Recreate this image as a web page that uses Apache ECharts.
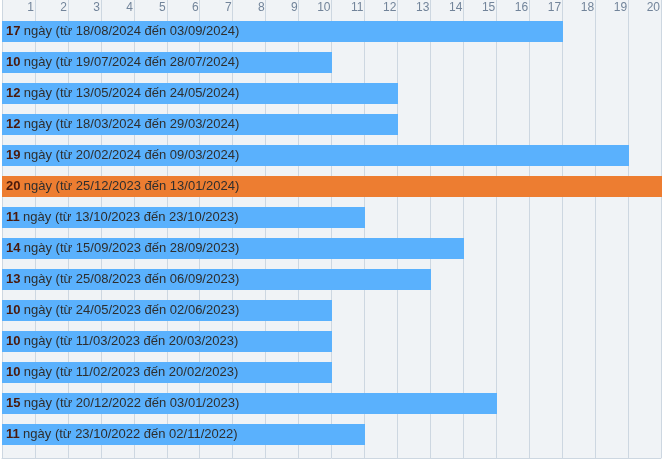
<!DOCTYPE html>
<html><head><meta charset="utf-8">
<script src="https://cdn.jsdelivr.net/npm/echarts@6/dist/echarts.min.js"></script>
<style>html,body{margin:0;padding:0;background:#fff}#c{width:663px;height:460px}</style>
</head><body><div id="c"></div>
<script>
const days = [17,10,12,12,19,20,11,14,13,10,10,10,15,11];
const startDates = ['18/08/2024','19/07/2024','13/05/2024','18/03/2024','20/02/2024','25/12/2023','13/10/2023','15/09/2023','25/08/2023','24/05/2023','11/03/2023','11/02/2023','20/12/2022','23/10/2022'];
const endDates = ['03/09/2024','28/07/2024','24/05/2024','29/03/2024','09/03/2024','13/01/2024','23/10/2023','28/09/2023','06/09/2023','02/06/2023','20/03/2023','20/02/2023','03/01/2023','02/11/2022'];
const xTicks = [0,1,2,3,4,5,6,7,8,9,10,11,12,13,14,15,16,17,18,19,20];

const maxDays = Math.max(...days);
const cats = days.map((d,i)=>String(i));
const chart = echarts.init(document.getElementById('c'));
chart.setOption({
  animation:false,
  grid:[
    {left:2,right:1,top:0,bottom:2,show:true,backgroundColor:'#f0f3f6',borderWidth:0},
    {left:2,right:1,top:16,height:434}
  ],
  xAxis:[
    {gridIndex:0,type:'value',min:xTicks[0],max:xTicks[xTicks.length-1],interval:1,position:'top',
     axisLine:{show:false},axisTick:{show:false},
     splitLine:{show:true,lineStyle:{color:'#cdd7e1',width:1}},
     axisLabel:{inside:true,showMinLabel:false,align:'right',margin:2,padding:[0,1,0,0],color:'#72849a',fontSize:12,fontFamily:'Liberation Sans, Arial'}},
    {gridIndex:0,type:'value',min:0,max:20,position:'bottom',
     axisLine:{show:true,lineStyle:{color:'#cdd7e1'}},axisTick:{show:false},axisLabel:{show:false},splitLine:{show:false}},
    {gridIndex:1,type:'value',min:0,max:20,show:false}
  ],
  yAxis:[
    {gridIndex:0,type:'value',show:false},
    {gridIndex:1,type:'category',data:cats,inverse:true,show:false}
  ],
  series:[{
    type:'bar',xAxisIndex:2,yAxisIndex:1,barWidth:21,
    data:days.map((d,i)=>({value:d,itemStyle:{color:d===maxDays?'#ed7d31':'#5ab1fd'}})),
    label:{show:true,position:'insideLeft',distance:4,
      formatter:p=>'{b|'+days[p.dataIndex]+'} {t|ngày (từ '+startDates[p.dataIndex]+' đến '+endDates[p.dataIndex]+')}',
      rich:{
        b:{fontWeight:'bold',color:'#4a1a0c',fontSize:13,fontFamily:'Liberation Sans, Arial'},
        t:{color:'#2e2e2e',fontSize:13,fontFamily:'Liberation Sans, Arial'}
      }}
  }]
});
</script></body></html>
